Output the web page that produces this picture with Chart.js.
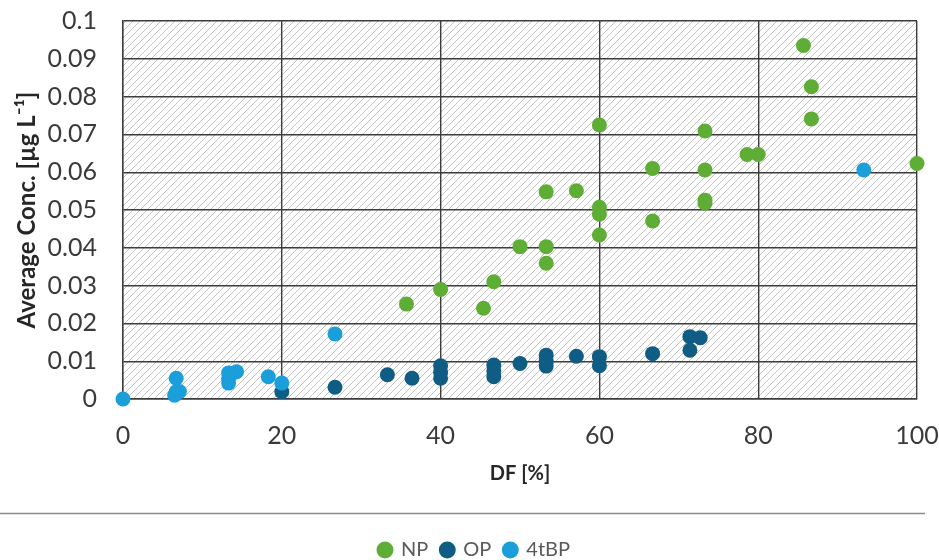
<!DOCTYPE html>
<html>
<head>
<meta charset="utf-8">
<script src="https://cdn.jsdelivr.net/npm/chart.js@4.4.1/dist/chart.umd.min.js"></script>
<style>
  html, body { margin: 0; padding: 0; background: #ffffff; }
  #wrap { width: 939px; height: 560px; }
</style>
</head>
<body>
<div id="wrap"><canvas id="c" width="939" height="560"></canvas></div>
<script>
// Detection frequency (DF, %) against average concentration (µg/L) per compound
const npDF    = [35.7, 40, 45.4, 46.7, 50, 53.3, 53.3, 53.3, 57.1, 60, 60, 60, 60, 66.7, 66.7, 73.3, 73.3, 73.3, 73.3, 78.6, 80, 85.7, 86.7, 86.7, 100];
const npConc  = [0.0251, 0.029, 0.024, 0.031, 0.0403, 0.0403, 0.0359, 0.0548, 0.0551, 0.0725, 0.0507, 0.0489, 0.0434, 0.061, 0.0471, 0.0709, 0.0606, 0.0526, 0.0518, 0.0647, 0.0647, 0.0935, 0.0826, 0.0741, 0.0623];

const opDF    = [20, 26.7, 33.3, 36.4, 40, 40, 40, 46.7, 46.7, 46.7, 50, 53.3, 53.3, 53.3, 57.1, 60, 60, 66.7, 71.4, 71.4, 72.7];
const opConc  = [0.0019, 0.0031, 0.0064, 0.0055, 0.0088, 0.0070, 0.0055, 0.0090, 0.0074, 0.0059, 0.0094, 0.0116, 0.0101, 0.0087, 0.0113, 0.0112, 0.0088, 0.0120, 0.0165, 0.0129, 0.0162];

const tbpDF   = [0, 6.7, 6.7, 7.1, 6.5, 13.3, 13.3, 13.3, 14.3, 18.3, 20, 26.7, 93.3];
const tbpConc = [0, 0.0055, 0.0019, 0.0020, 0.0010, 0.0069, 0.0055, 0.0042, 0.0072, 0.0059, 0.0042, 0.0172, 0.0606];

const seriesNames = ['NP', 'OP', '4tBP'];
const xTicks = [0, 20, 40, 60, 80, 100];
const yTicks = [0, 0.01, 0.02, 0.03, 0.04, 0.05, 0.06, 0.07, 0.08, 0.09, 0.1];

const toPoints = (xs, ys) => xs.map((x, i) => ({ x: x, y: ys[i] }));

const FONT = "Lato, 'Open Sans', sans-serif";
const PLOT_BOTTOM = 399;
const PLOT_LEFT = 123;
const PAD_LEFT = 32;
const PAD_BOTTOM = -10;

// Diagonal hatch fill for the plotting area
function hatchPattern(ctx) {
  const s = 7;
  const c = document.createElement('canvas');
  c.width = s; c.height = s;
  const g = c.getContext('2d');
  g.fillStyle = '#ffffff';
  g.fillRect(0, 0, s, s);
  g.strokeStyle = '#c2c2c2';
  g.lineWidth = 1;
  g.beginPath();
  g.moveTo(-1, s + 1); g.lineTo(s + 1, -1);
  g.moveTo(-1, 1); g.lineTo(1, -1);
  g.moveTo(s - 1, s + 1); g.lineTo(s + 1, s - 1);
  g.stroke();
  return ctx.createPattern(c, 'repeat');
}

const hatchPlugin = {
  id: 'hatchArea',
  beforeDraw(chart) {
    const { ctx, chartArea: a } = chart;
    ctx.save();
    ctx.fillStyle = hatchPattern(ctx);
    ctx.fillRect(a.left, a.top, a.right - a.left, a.bottom - a.top);
    ctx.restore();
  }
};

// Thin rule separating the plot from the legend
const rulePlugin = {
  id: 'legendRule',
  afterDraw(chart) {
    const { ctx } = chart;
    ctx.save();
    ctx.strokeStyle = '#8c8c8c';
    ctx.lineWidth = 1.5;
    ctx.beginPath();
    ctx.moveTo(0, 513.5);
    ctx.lineTo(925, 513.5);
    ctx.stroke();
    ctx.restore();
  }
};

const colors = ['#5eae36', '#0f5c85', '#1a9fdb'];

new Chart(document.getElementById('c'), {
  type: 'scatter',
  data: {
    datasets: [
      { label: seriesNames[0], data: toPoints(npDF, npConc), backgroundColor: colors[0], borderColor: colors[0], order: 2 },
      { label: seriesNames[1], data: toPoints(opDF, opConc), backgroundColor: colors[1], borderColor: colors[1], order: 1 },
      { label: seriesNames[2], data: toPoints(tbpDF, tbpConc), backgroundColor: colors[2], borderColor: colors[2], order: 0 }
    ]
  },
  options: {
    responsive: false,
    animation: false,
    devicePixelRatio: 1,
    layout: { padding: { top: 21, right: 22, left: PAD_LEFT, bottom: PAD_BOTTOM } },
    elements: { point: { radius: 7.5, borderWidth: 0, hoverRadius: 7.5 } },
    datasets: { scatter: { clip: false } },
    plugins: {
      tooltip: { enabled: false },
      legend: {
        position: 'bottom',
        labels: {
          usePointStyle: true,
          pointStyle: 'circle',
          boxWidth: 12,
          boxHeight: 12,
          padding: 13,
          color: '#595959',
          font: { family: FONT, size: 20 },
          sort: (a, b) => a.datasetIndex - b.datasetIndex
        }
      }
    },
    scales: {
      x: {
        type: 'linear',
        min: 0, max: 100,
        afterBuildTicks: (s) => { s.ticks = xTicks.map(v => ({ value: v })); },
        afterFit: (s) => { s.height = 560 - PAD_BOTTOM - s.chart.legend.height - PLOT_BOTTOM; },
        grid: { color: '#3c3c3c', lineWidth: 1.4, drawTicks: true, tickLength: 22, tickColor: 'rgba(0,0,0,0)' },
        border: { color: '#3c3c3c', width: 1.4 },
        ticks: { padding: 0, color: '#3a3a3a', font: { family: FONT, size: 25 } },
        title: { display: true, text: 'DF [%]', color: '#262626', font: { family: FONT, size: 20, weight: 'bold' }, padding: { top: 0, bottom: 41 } }
      },
      y: {
        type: 'linear',
        min: 0, max: 0.1,
        afterBuildTicks: (s) => { s.ticks = yTicks.map(v => ({ value: v })); },
        afterFit: (s) => { s.width = PLOT_LEFT - PAD_LEFT; },
        grid: { color: '#3c3c3c', lineWidth: 1.4, drawTicks: true, tickLength: 26, tickColor: 'rgba(0,0,0,0)' },
        border: { color: '#3c3c3c', width: 1.4 },
        ticks: { padding: 0, color: '#3a3a3a', font: { family: FONT, size: 25 }, callback: (v) => String(+v.toFixed(2)) },
        title: { display: true, text: 'Average Conc. [µg L⁻¹]', color: '#262626', font: { family: FONT, size: 24, weight: 'bold' }, padding: { top: 13 - PAD_LEFT, bottom: 0 } }
      }
    }
  },
  plugins: [hatchPlugin, rulePlugin]
});
</script>
</body>
</html>
